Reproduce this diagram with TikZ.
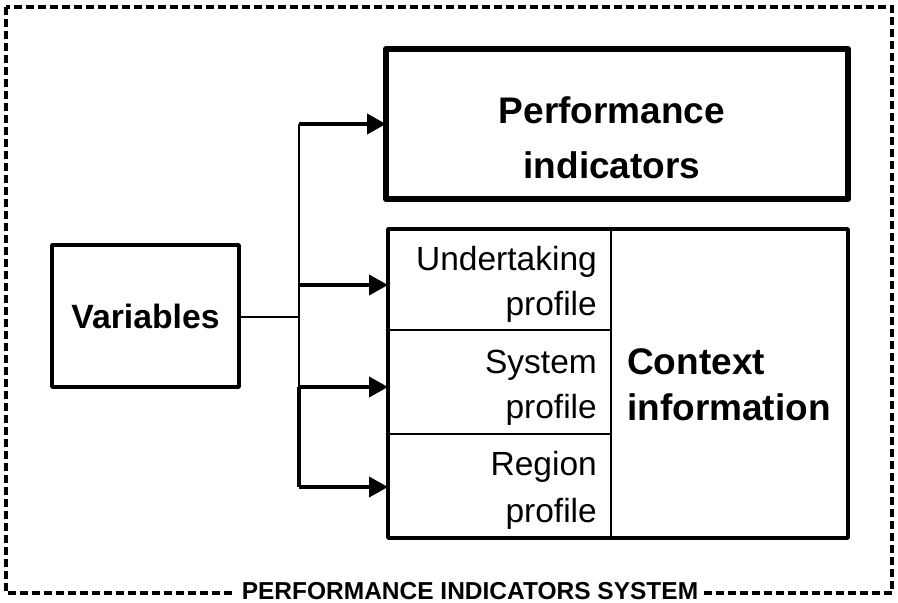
\documentclass[tikz,border=0pt]{standalone}
\usepackage{fontspec}
\setmainfont{Liberation Sans}
\usetikzlibrary{arrows.meta}
\begin{document}
\begin{tikzpicture}[x=1pt,y=-1pt,
  box/.style={draw, line width=3.5pt, inner sep=0pt, outer sep=0pt, line join=round},
  cell/.style={draw, line width=1.8pt, inner sep=0pt, outer sep=0pt},
  conn/.style={line width=1.8pt},
  thickconn/.style={line width=3.8pt},
  arr/.style={line width=3.8pt, -{Triangle[length=19pt,width=20pt]}},
  bigbold/.style={font=\fontsize{37}{44}\selectfont\bfseries, inner sep=0pt},
  cellfont/.style={font=\fontsize{33.5}{40}\selectfont, inner sep=0pt},
  frame/.style={line width=3.8pt, dash pattern=on 8pt off 4pt},
]
\useasboundingbox (0,0) rectangle (898,603);

% outer dashed frame
\draw[frame] (6,7) rectangle (892,593);
\node[fill=white, inner xsep=6pt, inner ysep=2pt,
      font=\fontsize{24.5}{28}\selectfont\bfseries] (lbl) at (470,591)
      {PERFORMANCE INDICATORS SYSTEM};

% Variables
\node[box, minimum width=187pt, minimum height=142pt,
      font=\fontsize{33.7}{40}\selectfont\bfseries] (var) at (145.5,316) {Variables};

% Performance indicators
\node[box, line width=6pt, minimum width=462pt, minimum height=150pt] (pi) at (617,124) {};
\node[bigbold, anchor=base] (pi1) at (612,123) {Performance};
\node[bigbold, anchor=base] (pi2) at (612,178) {indicators};

% Context information block
\node[cell, minimum width=223pt, minimum height=101pt] (u) at (499.5,279.5) {};
\node[cell, minimum width=223pt, minimum height=104pt] (s) at (499.5,382) {};
\node[cell, minimum width=223pt, minimum height=104pt] (r) at (499.5,486) {};
\node[box, minimum width=460pt, minimum height=309pt] (ctx) at (618,383.5) {};

\node[cellfont, anchor=base east] (u1) at (597,270) {Undertaking};
\node[cellfont, anchor=base east] (u2) at (597,315) {profile};
\node[cellfont, anchor=base east] (s1) at (597,373) {System};
\node[cellfont, anchor=base east] (s2) at (597,418) {profile};
\node[cellfont, anchor=base east] (r1) at (597,475) {Region};
\node[cellfont, anchor=base east] (r2) at (597,522) {profile};

\node[bigbold, anchor=base west] (c1) at (627,374) {Context};
\node[bigbold, anchor=base west] (c2) at (627,420) {information};

% connectors
\coordinate (j) at (299,317);
\coordinate (t0) at (299,124);
\coordinate (t1) at (299,285);
\coordinate (t2) at (299,387);
\coordinate (t3) at (299,487);

\draw[conn] (j -| var.east) -- (j);
\draw[conn] (t0) -- (t2);
\draw[thickconn] (t2) -- (t3);
\draw[arr] (t0) -- (pi.west);
\draw[arr] (t1) -- (t1 -| u.west);
\draw[arr] (t2) -- (t2 -| s.west);
\draw[arr] (t3) -- (t3 -| r.west);
\end{tikzpicture}
\end{document}
